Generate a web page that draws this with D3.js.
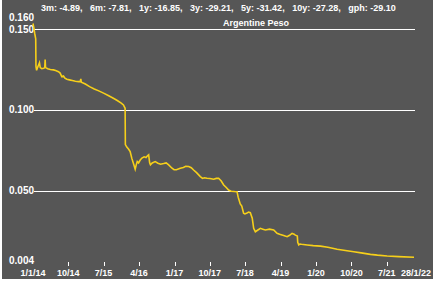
<!DOCTYPE html>
<html lang="en">
<head>
  <meta charset="UTF-8">
  <title>Argentine Peso</title>
  <script src="https://d3js.org/d3.v7.min.js"></script>
  <style>
    body {
      margin: 0;
      background: #fff;
      font-family: "Liberation Sans", Arial, sans-serif;
    }

    .lbl {
      fill: #fff;
      font-size: 10px;
      font-weight: bold;
    }

    .small {
      font-size: 9px;
    }

    .grid {
      stroke: #fff;
      stroke-width: 1;
      shape-rendering: crispEdges;
    }

    .line {
      fill: none;
      stroke: #f6cf1a;
      stroke-width: 1.6;
    }
  </style>
</head>
<body>
  <div id="chart"></div>

  <script>
    // Chart size
    const width = 445;
    const height = 282;

    // Header stats
    const statLabels = ["3m", "6m", "1y", "3y", "5y", "10y", "gph"];
    const statValues = [-4.89, -7.81, -16.85, -29.21, -31.42, -27.28, -29.10];
    const title = "Argentine Peso";

    // Axis ticks
    const yTicks = [0.160, 0.150, 0.100, 0.050, 0.004];
    const yGrid = [0.150, 0.100, 0.050];
    const xTickDates = ["2014-10-01", "2015-07-01", "2016-04-01", "2017-01-01", "2017-10-01",
                        "2018-07-01", "2019-04-01", "2020-01-01", "2020-10-01", "2021-07-01"];
    const xStart = "2014-01-01";
    const xEnd = "2022-01-28";

    // Series: dates and values
    const dates = [
      "2014-01-01", "2014-01-08", "2014-01-15", "2014-01-22", "2014-01-24", "2014-01-29",
      "2014-02-05", "2014-02-14", "2014-02-20", "2014-02-26", "2014-03-10", "2014-03-25",
      "2014-04-02", "2014-04-05", "2014-04-08", "2014-04-25", "2014-05-15", "2014-06-08",
      "2014-06-25", "2014-07-17", "2014-07-30", "2014-08-12", "2014-08-25", "2014-09-05",
      "2014-09-20", "2014-10-10", "2014-11-01", "2014-11-25", "2014-12-20", "2015-01-02",
      "2015-01-06", "2015-01-10", "2015-02-10", "2015-03-15", "2015-04-20", "2015-05-25",
      "2015-07-01", "2015-08-10", "2015-09-15", "2015-10-15", "2015-11-15", "2015-12-02",
      "2015-12-15", "2015-12-17", "2015-12-28", "2016-01-10", "2016-01-23", "2016-02-05",
      "2016-02-17", "2016-03-02", "2016-03-10", "2016-03-18", "2016-03-28", "2016-04-10",
      "2016-04-23", "2016-05-10", "2016-05-25", "2016-06-05", "2016-06-14", "2016-06-22",
      "2016-06-28", "2016-07-12", "2016-08-04", "2016-08-25", "2016-09-15", "2016-10-08",
      "2016-10-28", "2016-11-16", "2016-12-12", "2016-12-28", "2017-01-15", "2017-02-14",
      "2017-03-10", "2017-03-28", "2017-04-20", "2017-05-10", "2017-05-28", "2017-06-20",
      "2017-07-19", "2017-08-05", "2017-08-20", "2017-09-09", "2017-10-01", "2017-10-30",
      "2017-11-20", "2017-12-08", "2017-12-28", "2018-01-16", "2018-02-05", "2018-02-23",
      "2018-03-15", "2018-04-10", "2018-04-29", "2018-05-08", "2018-05-24", "2018-06-05",
      "2018-06-19", "2018-06-29", "2018-07-15", "2018-07-28", "2018-08-10", "2018-08-25",
      "2018-09-05", "2018-09-18", "2018-10-05", "2018-10-27", "2018-11-15", "2018-12-05",
      "2019-01-05", "2019-02-07", "2019-03-05", "2019-03-25", "2019-04-25", "2019-05-22",
      "2019-06-10", "2019-06-29", "2019-07-15", "2019-07-25", "2019-08-09", "2019-08-12",
      "2019-08-20", "2019-08-28", "2019-09-10", "2019-10-24", "2019-12-10", "2020-02-04",
      "2020-04-01", "2020-06-12", "2020-08-15", "2020-10-19", "2020-12-15", "2021-02-25",
      "2021-04-20", "2021-07-04", "2021-10-01", "2022-01-28"
    ];
    const values = [
      0.1535, 0.1505, 0.1470, 0.1440, 0.1270, 0.1245,
      0.1262, 0.1280, 0.1292, 0.1262, 0.1255, 0.1258,
      0.1262, 0.1312, 0.1262, 0.1255, 0.1250, 0.1248,
      0.1244, 0.1237, 0.1228, 0.1206, 0.1210, 0.1197,
      0.1190, 0.1186, 0.1182, 0.1178, 0.1175, 0.1176,
      0.1192, 0.1172, 0.1160, 0.1144, 0.1130, 0.1118,
      0.1104, 0.1088, 0.1072, 0.1058, 0.1042, 0.1031,
      0.1010, 0.0785, 0.0770, 0.0758, 0.0742, 0.0700,
      0.0670, 0.0633, 0.0660, 0.0680, 0.0672, 0.0690,
      0.0702, 0.0710, 0.0705, 0.0716, 0.0722, 0.0672,
      0.0660, 0.0672, 0.0680, 0.0670, 0.0664, 0.0668,
      0.0672, 0.0660, 0.0639, 0.0630, 0.0630, 0.0639,
      0.0644, 0.0651, 0.0650, 0.0642, 0.0628, 0.0612,
      0.0587, 0.0576, 0.0580, 0.0577, 0.0575, 0.0571,
      0.0576, 0.0577, 0.0560, 0.0535, 0.0520, 0.0504,
      0.0497, 0.0495, 0.0494, 0.0460, 0.0418, 0.0405,
      0.0360, 0.0356, 0.0362, 0.0368, 0.0364, 0.0330,
      0.0267, 0.0246, 0.0255, 0.0267, 0.0262, 0.0257,
      0.0262, 0.0257, 0.0236, 0.0230, 0.0222, 0.0215,
      0.0224, 0.0236, 0.0230, 0.0225, 0.0220, 0.0180,
      0.0164, 0.0170, 0.0168, 0.0164, 0.0160, 0.0157,
      0.0150, 0.0137, 0.0130, 0.0122, 0.0115, 0.0106,
      0.0101, 0.0096, 0.0092, 0.0088
    ];

    const parse = d3.utcParse("%Y-%m-%d");
    const data = dates.map((d, i) => ({ date: parse(d), value: values[i] }));

    // Scales
    const xScale = d3.scaleUtc()
                     .domain([parse(xStart), parse(xEnd)])
                     .range([33, 414]);

    const yScale = d3.scaleLinear()
                     .domain([0.004, 0.160])
                     .range([265, 13]);

    const svg = d3.select("#chart")
                  .append("svg")
                  .attr("width", width)
                  .attr("height", height);

    // Gray panel
    svg.append("rect")
       .attr("x", 2)
       .attr("y", 0)
       .attr("width", 431)
       .attr("height", 279)
       .attr("fill", "#565656");

    // Header line
    svg.append("text")
       .attr("class", "lbl small")
       .attr("x", 41)
       .attr("y", 11)
       .style("white-space", "pre")
       .text(statLabels.map((l, i) => `${l}: ${statValues[i].toFixed(2)},`).join("   ").replace(/,$/, ""));

    svg.append("text")
       .attr("class", "lbl small")
       .attr("x", 256)
       .attr("y", 26)
       .attr("text-anchor", "middle")
       .text(title);

    // Grid lines
    svg.selectAll(".grid")
       .data(yGrid)
       .enter()
       .append("line")
       .attr("class", "grid")
       .attr("x1", 34)
       .attr("x2", 415)
       .attr("y1", d => Math.round(yScale(d)) + 0.5)
       .attr("y2", d => Math.round(yScale(d)) + 0.5);

    // Y labels (end labels nudged inside the panel)
    svg.selectAll(".ylbl")
       .data(yTicks)
       .enter()
       .append("text")
       .attr("class", "lbl")
       .attr("x", 9)
       .attr("y", d => {
         let y = yScale(d);
         if (d === 0.160) y += 4.5;
         if (d === 0.004) y -= 4.5;
         return y;
       })
       .attr("dy", "0.35em")
       .text(d => d3.format(".3f")(d));

    // X axis: tick marks and labels
    const xTicks = xTickDates.map(parse);
    const fmt = d3.utcFormat("%-m/%y");

    svg.selectAll(".xtick")
       .data(xTicks)
       .enter()
       .append("line")
       .attr("x1", d => Math.round(xScale(d)) + 0.5)
       .attr("x2", d => Math.round(xScale(d)) + 0.5)
       .attr("y1", 262)
       .attr("y2", 266)
       .attr("stroke", "#fff");

    const xLabels = [{ d: parse(xStart), t: "1/1/14" }]
      .concat(xTicks.map(d => ({ d: d, t: fmt(d) })))
      .concat([{ d: parse(xEnd), t: "28/1/22" }]);

    svg.selectAll(".xlbl")
       .data(xLabels)
       .enter()
       .append("text")
       .attr("class", "lbl small")
       .attr("x", (d, i) => xScale(d.d) + (i === xLabels.length - 1 ? 2 : 0))
       .attr("y", 276)
       .attr("text-anchor", "middle")
       .text(d => d.t);

    // Line
    const line = d3.line()
                   .x(d => xScale(d.date))
                   .y(d => yScale(d.value));

    svg.append("path")
       .datum(data)
       .attr("class", "line")
       .attr("d", line);
  </script>
</body>
</html>
